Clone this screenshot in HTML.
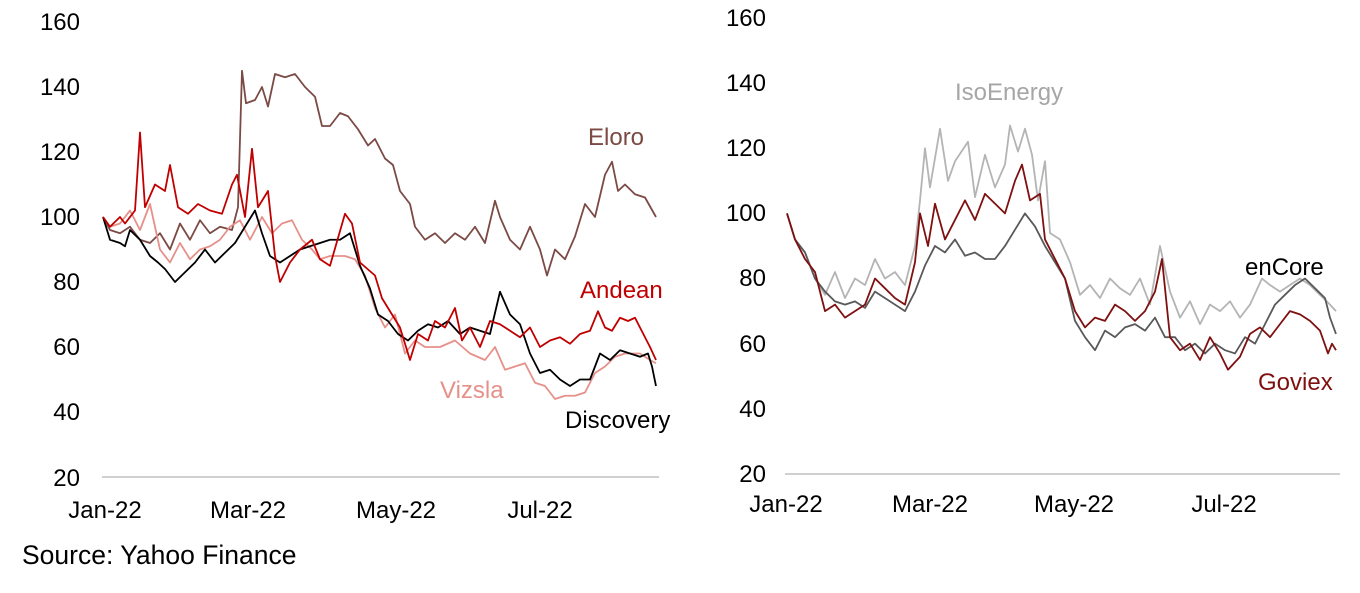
<!DOCTYPE html>
<html><head><meta charset="utf-8"><style>
body{margin:0;background:#fff;width:1360px;height:588px;overflow:hidden}
svg text{font-family:"Liberation Sans",Arial,sans-serif;font-size:24px}
</style></head><body>
<svg width="1360" height="588" xmlns="http://www.w3.org/2000/svg">
<g text-anchor="end" fill="#000" style="font-size:23px">
<text x="80" y="30">160</text><text x="80" y="95">140</text><text x="80" y="160">120</text><text x="80" y="225">100</text><text x="80" y="290">80</text><text x="80" y="355">60</text><text x="80" y="420">40</text><text x="80" y="486">20</text>
<text x="766" y="26">160</text><text x="766" y="91">140</text><text x="766" y="156">120</text><text x="766" y="221">100</text><text x="766" y="286">80</text><text x="766" y="352">60</text><text x="766" y="417">40</text><text x="766" y="482">20</text>
</g>
<line x1="102" y1="477" x2="659" y2="477" stroke="#d0d0d0" stroke-width="2"/>
<line x1="785" y1="474" x2="1340" y2="474" stroke="#d0d0d0" stroke-width="2"/>
<g fill="#000" text-anchor="middle" style="font-size:25px">
<text x="105" y="518">Jan-22</text><text x="248" y="518">Mar-22</text><text x="396" y="518">May-22</text><text x="540" y="518">Jul-22</text>
<text x="786" y="512">Jan-22</text><text x="930" y="512">Mar-22</text><text x="1074" y="512">May-22</text><text x="1224" y="512">Jul-22</text>
</g>
<text x="22" y="564" style="font-size:26.5px">Source: Yahoo Finance</text>
<g fill="none" stroke-width="1.8" stroke-linejoin="round">
<g transform="matrix(1 0 0 -3.25 0 542)">
<polyline vector-effect="non-scaling-stroke" stroke="#7b4a45" points="103,100 110,96 120,95 130,97 140,93 150,92 160,95 170,90 180,98 190,93 200,99 210,95 220,97 232,96 238,103 242,145 246,135 255,136 262,140 268,134 275,144 285,143 295,144 305,140 315,137 322,128 330,128 340,132 348,131 358,127 368,122 375,124 385,118 393,116 400,108 410,104 415,97 425,93 435,95 445,92 455,95 465,93 475,97 485,92 495,105 500,100 510,93 520,90 530,97 540,90 547,82 555,90 565,87 575,94 585,104 595,100 605,113 612,117 618,108 625,110 635,107 645,106 656,100"/>
<polyline vector-effect="non-scaling-stroke" stroke="#e6908a" points="103,100 110,97 120,98 130,102 140,96 150,104 160,90 170,86 180,92 190,87 200,90 210,91 220,93 230,97 240,99 250,93 262,100 272,95 282,98 292,99 302,93 312,90 320,87 330,88 345,88 355,87 365,82 375,72 385,66 395,70 405,58 415,62 425,60 440,60 455,62 470,58 485,56 495,60 505,53 515,54 525,55 535,49 545,48 555,44 565,45 575,45 585,46 595,52 605,54 615,57 625,58 640,58 650,56 656,55"/>
<polyline vector-effect="non-scaling-stroke" stroke="#000" points="103,100 110,93 120,92 125,91 130,96 140,93 150,88 158,86 165,84 175,80 185,83 195,86 205,90 215,86 225,89 235,92 245,97 255,102 262,95 270,88 280,86 290,88 300,90 310,91 320,92 330,93 340,93 350,95 360,85 370,78 378,70 388,68 398,64 408,62 418,65 428,67 438,66 448,68 460,64 470,66 480,65 490,64 500,77 510,70 520,67 530,58 540,52 550,53 560,50 570,48 580,50 590,50 600,58 610,56 620,59 630,58 640,57 648,58 652,54 656,48"/>
<polyline vector-effect="non-scaling-stroke" stroke="#c00000" points="103,100 110,97 120,100 125,98 135,102 140,126 145,103 155,110 165,108 170,116 178,103 188,101 198,104 210,102 222,101 232,110 237,113 245,100 252,121 258,103 268,108 275,88 280,80 290,86 300,90 312,93 320,87 330,85 345,101 352,98 360,86 375,82 382,75 392,70 400,66 410,56 418,64 428,62 435,68 445,66 455,72 462,62 470,66 480,60 490,68 500,67 510,65 520,63 530,66 540,60 550,62 560,63 570,61 580,64 590,65 598,71 605,66 612,65 620,69 628,68 635,69 645,63 650,60 656,56"/>
</g>
<g transform="matrix(1 0 0 -3.257 0 539.1)">
<polyline vector-effect="non-scaling-stroke" stroke="#b4b4b4" points="787,100 795,92 805,88 815,80 825,75 835,82 845,74 855,80 865,78 875,86 885,80 895,82 905,78 915,90 920,104 925,120 930,108 940,126 948,110 955,116 968,122 975,105 985,118 995,108 1005,115 1010,127 1018,119 1025,126 1032,118 1038,104 1045,116 1050,94 1060,92 1070,85 1080,75 1090,78 1100,74 1110,80 1120,77 1130,75 1140,80 1150,72 1160,90 1170,76 1180,68 1190,73 1200,66 1210,72 1220,70 1230,73 1240,68 1250,72 1262,80 1270,78 1280,76 1290,78 1300,80 1310,78 1320,75 1330,72 1336,70"/>
<polyline vector-effect="non-scaling-stroke" stroke="#595959" points="787,100 795,92 805,88 815,80 825,76 835,73 845,72 855,73 865,71 875,76 885,74 895,72 905,70 915,76 925,84 935,90 945,88 955,92 965,87 975,88 985,86 995,86 1005,90 1015,95 1025,100 1035,96 1045,90 1055,85 1065,80 1075,67 1085,62 1095,58 1105,64 1115,62 1125,65 1135,66 1145,64 1155,68 1165,62 1175,62 1185,58 1195,60 1205,57 1215,60 1225,58 1235,57 1245,62 1255,60 1265,66 1275,72 1285,75 1295,78 1305,80 1315,77 1325,74 1330,68 1336,63"/>
<polyline vector-effect="non-scaling-stroke" stroke="#7f1010" points="787,100 795,92 805,86 815,82 825,70 835,72 845,68 855,70 865,72 875,80 885,77 895,74 905,72 915,85 920,100 928,90 935,103 945,92 955,98 965,104 975,98 985,106 995,103 1005,100 1015,110 1022,115 1030,104 1040,106 1045,92 1055,86 1065,80 1075,70 1085,65 1095,68 1105,67 1115,72 1125,70 1135,67 1145,70 1155,76 1162,86 1170,62 1180,58 1190,60 1200,55 1210,62 1220,57 1228,52 1240,56 1250,63 1260,65 1270,62 1280,66 1290,70 1300,69 1310,67 1320,64 1328,57 1332,60 1336,58"/>
</g>
</g>
<text x="588" y="145" fill="#7b4a45">Eloro</text>
<text x="580" y="298" fill="#c00000">Andean</text>
<text x="440" y="398" fill="#e6908a">Vizsla</text>
<text x="565" y="428" fill="#000">Discovery</text>
<text x="955" y="100" fill="#a6a6a6">IsoEnergy</text>
<text x="1245" y="275" fill="#000">enCore</text>
<text x="1258" y="390" fill="#7f1010">Goviex</text>
</svg>
</body></html>
